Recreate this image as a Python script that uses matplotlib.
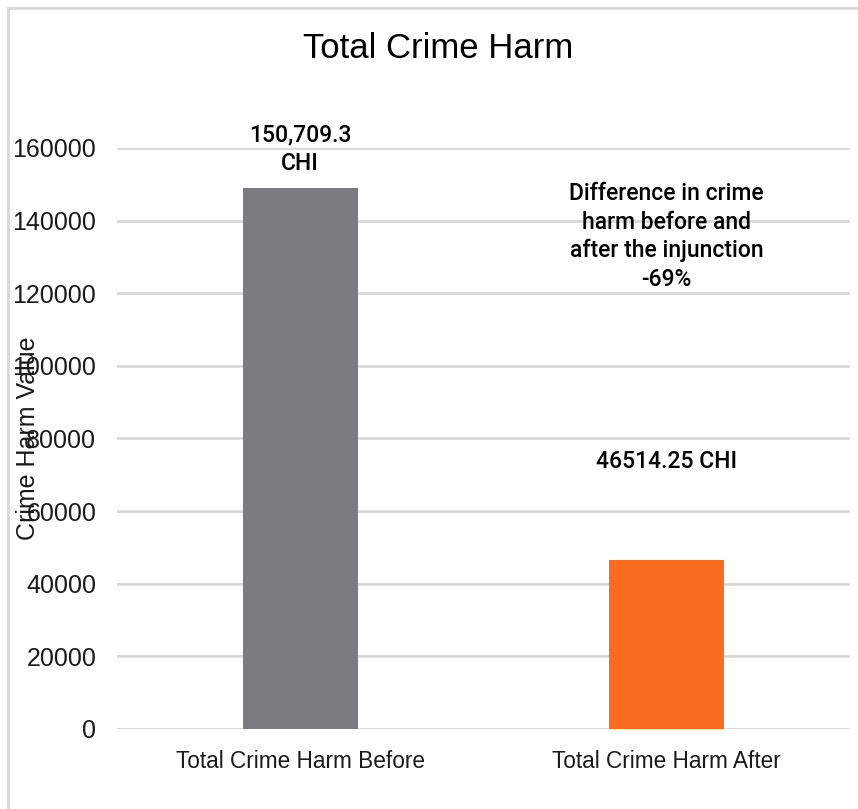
import matplotlib
matplotlib.use('Agg')
import matplotlib.pyplot as plt
from matplotlib.patches import Rectangle

cats = ['Total Crime Harm Before', 'Total Crime Harm After']
vals = [149000, 46514.25]
cols = ['#7b7c80', '#f96b1e']
yticks = [0, 20000, 40000, 60000, 80000, 100000, 120000, 140000, 160000]

plt.rcParams['font.family'] = ['Liberation Sans', 'DejaVu Sans']
annot_font = ['Roboto', 'Liberation Sans', 'DejaVu Sans']

fig = plt.figure(figsize=(8.58, 8.09), dpi=100)
ax = fig.add_axes([117/858, 1-729/809, 733/858, 581/809])

x = range(len(cats))
ax.bar(x, vals, width=0.315, color=cols, zorder=3)
ax.set_xlim(-0.5, 1.5)
ax.set_ylim(0, 160000)
ax.set_yticks(yticks)
ax.set_yticklabels([str(t) for t in yticks], fontsize=18, color='#1a1a1a')
ax.set_xticks(list(x))
ax.set_xticklabels(cats, fontsize=16.3, color='#1a1a1a')
ax.tick_params(axis='both', length=0)
ax.tick_params(axis='y', pad=15)
ax.tick_params(axis='x', pad=15)
ax.grid(axis='y', color='#d9d9d9', lw=2, zorder=0)
for s in ax.spines.values():
    s.set_visible(False)

# y label sits over the tick labels, like in the original
fig.text(28/858, 1-438/809, 'Crime Harm Value', rotation=90, fontsize=18,
         ha='center', va='center', color='#1a1a1a')

fig.text(438/858, 1-48/809, 'Total Crime Harm', fontsize=25,
         ha='center', va='center', color='black')

ax.text(0, 159700, '150,709.3\nCHI', ha='center', va='center', fontsize=16.5,
        family=annot_font, weight=500, linespacing=1.3, clip_on=False)
ax.text(1, 135600, 'Difference in crime\nharm before and\nafter the injunction\n-69%',
        ha='center', va='center', fontsize=16.5, family=annot_font, weight=500,
        linespacing=1.3)
ax.text(1, 73800, '46514.25 CHI', ha='center', va='center', fontsize=16.5,
        family=annot_font, weight=500)

fig.patches.append(Rectangle((8/858, -0.1), 1.2, 1 - 8/809 + 0.1, transform=fig.transFigure,
                             fill=False, ec='#d9d9d9', lw=2))

fig.savefig('out.png', dpi=100)
